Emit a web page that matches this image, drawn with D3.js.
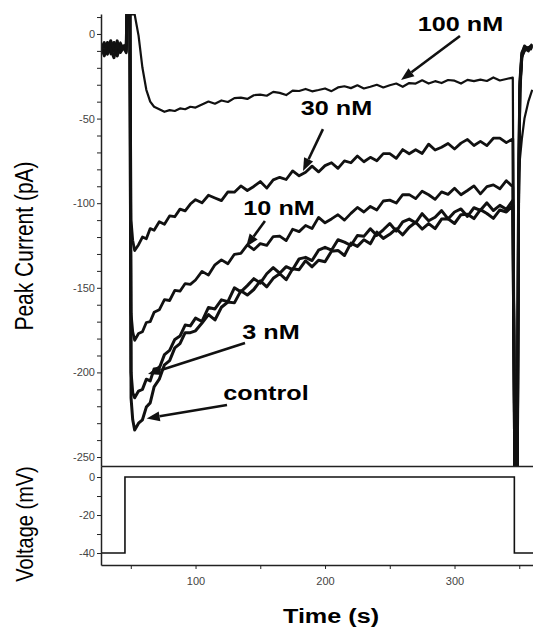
<!DOCTYPE html>
<html>
<head>
<meta charset="utf-8">
<script src="https://cdn.jsdelivr.net/npm/d3@7"></script>
<style>
body { margin: 0; background: #fff; }
svg { display: block; }
.axis path, .axis line { stroke: #222; }
.axis path { stroke-width: 1.5; }
.axis text { font-family: Arial, "Liberation Sans", sans-serif; font-size: 11px; fill: #444; }
.title { font-family: Arial, "Liberation Sans", sans-serif; fill: #000; }
</style>
</head>
<body>
<div id="chart"></div>
<script>
// ##################################
// Data
// ##################################

// Time points (s) shared by all current traces
const tGrid = [
  27, 29.5, 32, 34.5, 37, 39.5, 42, 44.5, 46.5,
  47, 49.3, 50.2, 51.5, 53, 56, 59, 62, 65, 68, 72, 76, 80, 84, 88, 92, 96,
  100, 105, 110, 115, 120, 125, 130, 135, 140, 145,
  150, 155, 160, 165, 170, 175, 180, 185, 190, 195,
  200, 205, 210, 215, 220, 225, 230, 235, 240, 245,
  250, 255, 260, 265, 270, 275, 280, 285, 290, 295,
  300, 305, 310, 315, 320, 325, 330, 335, 340, 345,
  346.5, 348.5, 349.5, 350.5, 352, 354, 357, 360
];

// Peak current (pA), saturated readings sit at the display edges
const nM100 = [
  -8, -11, -6, -12, -7, -10, -5, -9, -8,
  11.5, 11.5, 11.5, 11.5, 11.5, -1, -20, -33, -40, -43, -44.5, -46, -45, -45.5, -44, -44.5, -43,
  -43.5, -41.7, -39.9, -41.2, -39.3, -40.2, -37.9, -37.6, -38.4, -36.2,
  -35.8, -36.5, -34.2, -34.8, -36.1, -33.5, -33.7, -32.5, -33.9, -33.1,
  -32.2, -33.8, -31.6, -30.9, -32.0, -30.3, -32.2, -31.2, -30.0, -31.6,
  -30.3, -29.3, -31.2, -29.0, -29.3, -27.4, -29.3, -27.9, -29.0, -27.2,
  -27.6, -29.3, -27.1, -27.9, -27.0, -27.8, -25.7, -27.5, -26.6, -25.8,
  -255, -255, -84, -74, -62, -50, -40, -33
];

const nM30 = [
  -9, -5, -12, -7, -10, -4, -11, -8, -9,
  11.5, 11.5, -110, -122, -128, -124.5, -120, -121, -115, -116, -111, -112.5, -107.5, -108, -103.5, -104.5, -100.5,
  -97.9, -99.8, -95.3, -96.9, -98.5, -93.3, -93.5, -89.8, -92.5, -90.1,
  -87.2, -91.1, -86.2, -84.7, -86.0, -80.9, -83.8, -81.7, -78.1, -81.5,
  -77.8, -76.1, -79.4, -75.0, -76.1, -72.1, -75.5, -72.9, -74.9, -70.7,
  -70.7, -73.5, -68.3, -70.8, -68.4, -70.6, -65.1, -68.6, -66.9, -64.7,
  -68.0, -64.5, -62.3, -65.9, -63.5, -66.0, -61.6, -61.5, -64.2, -62.0,
  -255, -255, -100, -35, -14, -9, -8, -7
];

const nM10 = [
  -6, -13, -8, -10, -5, -12, -9, -7, -10,
  11.5, 11.5, -165, -176, -181, -177, -176, -170.5, -170, -164.5, -163, -157, -157.5, -151.5, -152, -147.5, -148,
  -145.4, -140.3, -142.5, -136.4, -133.5, -135.8, -130.2, -129.7, -124.6, -127.5,
  -123.9, -124.9, -119.7, -119.4, -122.1, -115.4, -116.8, -113.2, -115.0, -108.4,
  -111.6, -109.3, -106.8, -110.0, -106.0, -102.5, -105.2, -101.9, -104.0, -98.7,
  -98.2, -99.9, -95.0, -94.9, -97.3, -92.9, -95.0, -97.7, -93.3, -94.8,
  -91.2, -95.0, -92.5, -89.8, -94.5, -90.2, -89.2, -91.5, -86.7, -90.3,
  -255, -255, -95, -32, -12, -7, -9, -6
];

const nM3 = [
  -10, -6, -11, -4, -9, -13, -7, -8, -11,
  11.5, 11.5, -200, -212, -215, -211, -210, -204, -205, -198, -197.5, -189.5, -187, -180.5, -178.5, -172, -172.5,
  -167.9, -169.9, -161.6, -162.5, -157.1, -158.2, -150.0, -152.4, -148.7, -144.6,
  -147.2, -141.7, -138.1, -141.4, -137.5, -139.2, -132.9, -132.0, -133.9, -127.8,
  -126.1, -127.8, -121.6, -123.0, -125.0, -119.1, -119.6, -115.1, -119.0, -115.7,
  -112.0, -116.5, -111.0, -109.4, -111.6, -106.2, -110.4, -108.3, -104.4, -109.3,
  -105.2, -103.4, -107.8, -102.7, -104.2, -99.8, -104.3, -101.3, -103.6, -98.4,
  -255, -255, -90, -30, -13, -10, -8, -9
];

const control = [
  -7, -12, -5, -9, -14, -6, -10, -8, -6,
  11.5, 11.5, -215, -228, -234, -230, -228, -220.5, -218, -208.5, -204, -195.5, -193, -185.5, -183, -176.5, -176.5,
  -175.4, -170.8, -165.8, -169.0, -161.5, -158.4, -158.9, -151.8, -154.3, -151.0,
  -145.9, -149.4, -144.4, -141.7, -145.2, -138.7, -139.3, -134.0, -137.6, -133.7,
  -134.6, -128.4, -127.9, -130.9, -123.6, -125.5, -121.6, -124.0, -117.1, -120.8,
  -118.4, -115.1, -118.7, -114.2, -111.3, -115.3, -112.1, -115.0, -109.4, -109.2,
  -112.0, -106.8, -106.5, -109.1, -103.8, -106.1, -109.0, -104.0, -105.2, -101.3,
  -255, -255, -88, -28, -11, -8, -10, -7
];

// Voltage protocol (mV)
const vTime = [27, 45.5, 45.5, 346.2, 346.2, 360.6];
const vVolt = [-40, -40, 0, 0, -40, -40];

// Tick labels
const currTickLabels = [0, -50, -100, -150, -200, -250];
const voltTickLabels = [0, -20, -40];
const timeTickLabels = [100, 200, 300];


// ##################################
// Layout
// ##################################

const w = 533;
const h = 628;
const x_left = 101;
const x_right = 533;
const curr_top = 14;
const curr_bottom = 466;
const volt_top = 466;
const volt_bottom = 565;

let svg = d3.select("#chart")
            .append("svg")
            .attr("width", w)
            .attr("height", h);

const xScale = d3.scaleLinear()
                 .domain([27, 360.6])
                 .range([x_left, x_right]);

const yCurr = d3.scaleLinear()
                .domain([-255.3, 11.8])
                .range([curr_bottom, curr_top]);

const yVolt = d3.scaleLinear()
                .domain([-46.3, 5.8])
                .range([volt_bottom, volt_top]);


// Clip for the current panel
svg.append("clipPath")
    .attr("id", "currClip")
    .append("rect")
    .attr("x", x_left)
    .attr("y", curr_top)
    .attr("width", x_right - x_left)
    .attr("height", curr_bottom - curr_top);


// ##################################
// Current traces
// ##################################

const traces = [
    {name: "100 nM", values: nM100, width: 2.2},
    {name: "30 nM", values: nM30, width: 2.8},
    {name: "10 nM", values: nM10, width: 2.8},
    {name: "3 nM", values: nM3, width: 3.0},
    {name: "control", values: control, width: 3.0}
];

let line = d3.line()
    .x(d => xScale(d[0]))
    .y(d => yCurr(d[1]));

svg.append("g")
    .attr("clip-path", "url(#currClip)")
    .selectAll("path")
    .data(traces)
    .join("path")
        .attr("fill", "none")
        .attr("stroke", "#111")
        .attr("stroke-width", d => d.width)
        .attr("stroke-linejoin", "round")
        .attr("d", d => line(tGrid.map((t, i) => [t, d.values[i]])));


// ##################################
// Voltage trace
// ##################################

let vLine = d3.line()
    .x((d, i) => xScale(vTime[i]))
    .y(d => yVolt(d));

svg.append("path")
    .attr("fill", "none")
    .attr("stroke", "#111")
    .attr("stroke-width", 1.6)
    .attr("d", vLine(vVolt));


// ##################################
// Axes
// ##################################

const yCurrAxis = d3.axisLeft(yCurr)
                    .tickValues(d3.range(-250, 11, 10))
                    .tickFormat(d => currTickLabels.includes(d) ? d : "")
                    .tickSize(4)
                    .tickPadding(2)
                    .tickSizeOuter(0);

svg.append("g")
    .attr("class", "axis")
    .attr("transform", "translate(" + x_left + ",0)")
    .call(yCurrAxis);

const yVoltAxis = d3.axisLeft(yVolt)
                    .tickValues(d3.range(-40, 1, 10))
                    .tickFormat(d => voltTickLabels.includes(d) ? d : "")
                    .tickSize(4)
                    .tickPadding(2)
                    .tickSizeOuter(0);

svg.append("g")
    .attr("class", "axis")
    .attr("transform", "translate(" + x_left + ",0)")
    .call(yVoltAxis);

// separator between the panels
svg.append("g")
    .attr("class", "axis")
    .attr("transform", "translate(0," + curr_bottom + ")")
    .call(d3.axisBottom(xScale).tickValues([]).tickSizeOuter(0));

const xAxis = d3.axisBottom(xScale)
                .tickValues([50, 100, 150, 200, 250, 300, 350])
                .tickFormat(d => timeTickLabels.includes(d) ? d : "")
                .tickSize(4)
                .tickPadding(8)
                .tickSizeOuter(0);

svg.append("g")
    .attr("class", "axis")
    .attr("transform", "translate(0," + volt_bottom + ")")
    .call(xAxis);


// Axis titles
svg.append("text")
    .attr("class", "title")
    .attr("text-anchor", "middle")
    .attr("font-size", 21)
    .attr("font-weight", "bold")
    .attr("transform", "translate(331,623) scale(1.2,1)")
    .text("Time (s)");

svg.append("text")
    .attr("class", "title")
    .attr("text-anchor", "middle")
    .attr("font-size", 21)
    .attr("transform", "translate(33,246) rotate(-90) scale(1,1.2)")
    .text("Peak Current (pA)");

svg.append("text")
    .attr("class", "title")
    .attr("text-anchor", "middle")
    .attr("font-size", 20)
    .attr("transform", "translate(33,524) rotate(-90) scale(1,1.2)")
    .text("Voltage (mV)");


// ##################################
// Annotations with arrows (data units)
// ##################################

const notes = [
    {text: "100 nM", at: [304.6, 1.5], from: [304.2, -1.2], to: [258.7, -27.2]},
    {text: "30 nM", at: [208.9, -47.9], from: [198.4, -56.2], to: [183.0, -81.0]},
    {text: "10 nM", at: [164.5, -107.0], from: [153.6, -110.5], to: [139.0, -125.9]},
    {text: "3 nM", at: [158.3, -180.3], from: [138.2, -182.6], to: [63.3, -201.0]},
    {text: "control", at: [154.4, -216.3], from: [124.3, -219.3], to: [62.3, -227.2]}
];

let noteG = svg.append("g");

notes.forEach(n => {
    const x0 = xScale(n.from[0]), y0 = yCurr(n.from[1]);
    const x1 = xScale(n.to[0]), y1 = yCurr(n.to[1]);
    const ang = Math.atan2(y1 - y0, x1 - x0);
    const headLen = 13, headW = 5;
    const bx = x1 - headLen * Math.cos(ang), by = y1 - headLen * Math.sin(ang);

    noteG.append("line")
        .attr("x1", x0).attr("y1", y0)
        .attr("x2", bx).attr("y2", by)
        .attr("stroke", "#111")
        .attr("stroke-width", 2.6);

    noteG.append("polygon")
        .attr("fill", "#111")
        .attr("points", [
            [x1, y1],
            [bx + headW * Math.sin(ang), by - headW * Math.cos(ang)],
            [bx - headW * Math.sin(ang), by + headW * Math.cos(ang)]
        ].map(p => p.join(",")).join(" "));

    noteG.append("text")
        .attr("class", "title")
        .attr("text-anchor", "middle")
        .attr("font-size", 21)
        .attr("font-weight", "bold")
        .attr("transform", "translate(" + xScale(n.at[0]) + "," + yCurr(n.at[1]) + ") scale(1.2,1)")
        .text(n.text);
});
</script>
</body>
</html>
